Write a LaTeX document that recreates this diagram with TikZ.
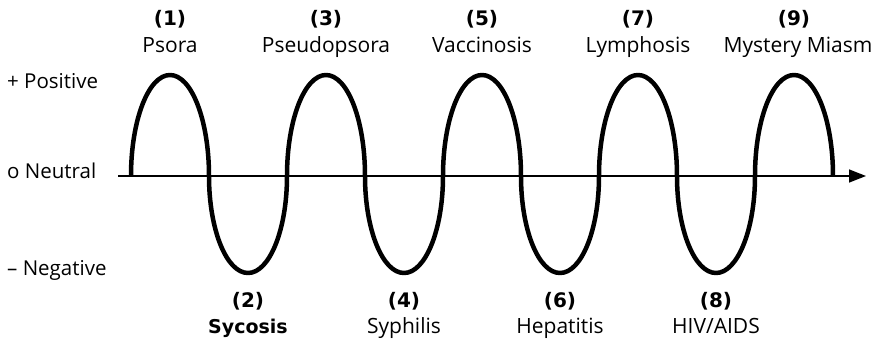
\documentclass[tikz,border=0pt]{standalone}
\usepackage{fontspec}
\setmainfont{Open Sans}
\newfontfamily\numfont{DejaVu Sans}
\usetikzlibrary{arrows.meta}
\tikzset{
  lbl/.style={font=\fontsize{21}{24}\selectfont, anchor=base, inner sep=0pt},
  num/.style={font=\numfont\fontsize{20}{24}\selectfont\bfseries, anchor=base, inner sep=0pt},
  boldlbl/.style={font=\numfont\fontsize{19}{24}\selectfont\bfseries, anchor=base, inner sep=0pt},
  side/.style={font=\fontsize{20.5}{24}\selectfont, anchor=base west, inner sep=0pt},
  wave/.style={line width=4.5pt, line cap=butt, line join=round},
  axis/.style={line width=1.5pt, -{Triangle[length=17pt,width=13pt]}}
}
\begin{document}
\begin{tikzpicture}[x=1pt,y=1pt]
\useasboundingbox (0,0) rectangle (879,338);
% axis
\coordinate (ax0) at (118,162);
\coordinate (ax1) at (866,162);
\draw[axis] (ax0) -- (ax1);
% wave
\coordinate (w0) at (131,162);
\draw[wave] (w0)
  arc[start angle=180,end angle=0,x radius=39,y radius=101]
  arc[start angle=180,end angle=360,x radius=39,y radius=97]
  arc[start angle=180,end angle=0,x radius=39,y radius=101]
  arc[start angle=180,end angle=360,x radius=39,y radius=97]
  arc[start angle=180,end angle=0,x radius=39,y radius=101]
  arc[start angle=180,end angle=360,x radius=39,y radius=97]
  arc[start angle=180,end angle=0,x radius=39,y radius=101]
  arc[start angle=180,end angle=360,x radius=39,y radius=97]
  arc[start angle=180,end angle=0,x radius=39,y radius=101];
% side labels
\node[side] (pos) at (7,249) {+ Positive};
\node[side] (neu) at (7,159) {o Neutral};
\node[side] (neg) at (7,63) {– Negative};
% top labels
\node[num] (n1) at (170,312) {(1)};
\node[lbl] (t1) at (170,285) {Psora};
\node[num] (n3) at (326,312) {(3)};
\node[lbl] (t3) at (326,285) {Pseudopsora};
\node[num] (n5) at (482,312) {(5)};
\node[lbl] (t5) at (482,285) {Vaccinosis};
\node[num] (n7) at (638,312) {(7)};
\node[lbl] (t7) at (638,285) {Lymphosis};
\node[num] (n9) at (794,312) {(9)};
\node[lbl] (t9) at (798,285) {Mystery Miasm};
% bottom labels
\node[num] (n2) at (248,31) {(2)};
\node[boldlbl] (t2) at (248,5) {Sycosis};
\node[num] (n4) at (404,31) {(4)};
\node[lbl] (t4) at (404,5) {Syphilis};
\node[num] (n6) at (560,31) {(6)};
\node[lbl] (t6) at (560,5) {Hepatitis};
\node[num] (n8) at (716,31) {(8)};
\node[lbl] (t8) at (716,5) {HIV/AIDS};
\end{tikzpicture}
\end{document}
